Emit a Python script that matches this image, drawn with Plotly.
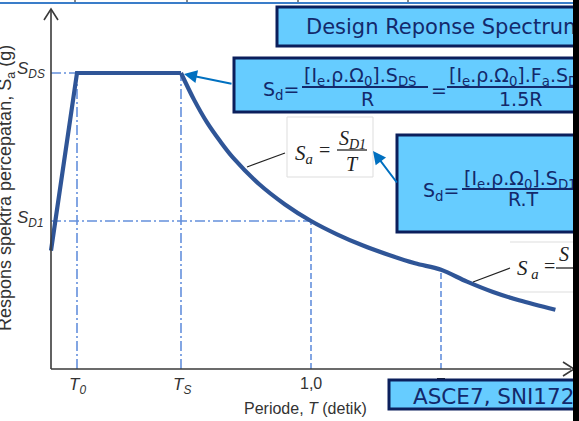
import plotly.graph_objects as go

# ---- design spectrum parameters (periods in s, accelerations in g) ----
T0, TS, T1, TL = 0.1, 0.5, 1.0, 1.5
SDS, SD1 = 1.0, 0.5

# rising branch and plateau
T_rise = [0.0, T0, TS]
Sa_rise = [0.4, SDS, SDS]

# descending branch (Sa = SD1/T, then SD1*TL/T^2 past TL)
T_dec = [0.5, 0.55, 0.6, 0.65, 0.7, 0.8, 0.9, 1.0, 1.1, 1.2, 1.3, 1.4, 1.5,
         1.6, 1.7, 1.8, 1.94]
Sa_dec = [1.0, 0.91, 0.833, 0.77, 0.714, 0.625, 0.556, 0.5, 0.455, 0.417,
          0.385, 0.357, 0.335, 0.295, 0.26, 0.232, 0.2]
Sa_TL = Sa_dec[T_dec.index(TL)]

W, H = 579, 421


def px(x):
    return x / W


def py(y):
    return 1 - y / H


CURVE = "#2F5597"
GUIDE = "#6490DC"
AXIS = "#3a3a3a"
NAVY = "#13296B"
BOXFILL = "#66CCFF"
BOXLINE = "#0B1F5C"
ARROW = "#0070C0"
DASHDOT = "10px,3px,2px,3px"
DASH = "6px,3px"

fig = go.Figure()

# guide lines
guides = [
    ([0, T0], [SDS, SDS], DASHDOT),
    ([T0, T0], [0, SDS], DASHDOT),
    ([TS, TS], [0, SDS], DASHDOT),
    ([0, T1], [SD1, SD1], DASHDOT),
    ([T1, T1], [0, SD1], DASH),
    ([TL, TL], [0, Sa_TL], DASH),
]
for gx, gy, d in guides:
    fig.add_trace(go.Scatter(x=gx, y=gy, mode="lines",
                             line=dict(color=GUIDE, width=1.6, dash=d),
                             hoverinfo="skip", showlegend=False))

# spectrum curve
fig.add_trace(go.Scatter(x=T_rise, y=Sa_rise, mode="lines",
                         line=dict(color=CURVE, width=4.2),
                         showlegend=False))
fig.add_trace(go.Scatter(x=T_dec, y=Sa_dec, mode="lines",
                         line=dict(color=CURVE, width=4.2, shape="spline",
                                   smoothing=1.0),
                         showlegend=False))

shapes = []


def pline(x0, y0, x1, y1, color, width):
    shapes.append(dict(type="line", xref="paper", yref="paper",
                       x0=px(x0), y0=py(y0), x1=px(x1), y1=py(y1),
                       line=dict(color=color, width=width)))


def prect(x0, y0, x1, y1, fill, color, width):
    shapes.append(dict(type="rect", xref="paper", yref="paper",
                       x0=px(x0), y0=py(y0), x1=px(x1), y1=py(y1),
                       fillcolor=fill, line=dict(color=color, width=width)))


def ppath(pts, color, width):
    d = "M " + " L ".join(f"{px(a)},{py(b)}" for a, b in pts)
    shapes.append(dict(type="path", xref="paper", yref="paper", path=d,
                       line=dict(color=color, width=width)))


# axes with open arrow heads
shapes.append(dict(type="line", xref="x", yref="y", x0=0, x1=0, y0=0,
                   y1=1.213, line=dict(color=AXIS, width=1.6)))
shapes.append(dict(type="line", xref="x", yref="y", x0=0, x1=2.0, y0=0,
                   y1=0, line=dict(color=AXIS, width=1.6)))
ppath([(44, 20), (51, 9), (58, 20)], AXIS, 1.6)
ppath([(563, 362), (574, 369), (563, 376)], AXIS, 1.6)

# thin rule along the top
pline(0, 3, 573, 3, "#3A7DC9", 2)
for tx in (75, 187, 298, 408):
    pline(tx, 0, tx, 2, "#111111", 1)
pline(437, 379, 445, 379, "#222222", 2)

# formula image frames
prect(287, 117, 373, 177, "white", "#DDDDDD", 1)
pline(510, 242, 580, 242, "#DDDDDD", 1)
pline(510, 292, 580, 292, "#DDDDDD", 1)

# leader lines
pline(247, 167, 285, 153, "#222222", 1.2)
pline(473, 282, 510, 268, "#222222", 1.2)

# text boxes
prect(277, 7, 600, 46, BOXFILL, BOXLINE, 3)
prect(234, 58, 600, 112, BOXFILL, BOXLINE, 3)
prect(397, 135, 600, 232, BOXFILL, BOXLINE, 3)
prect(389, 380, 600, 409, BOXFILL, BOXLINE, 3)

# fraction bars
pline(302, 87, 428, 87, NAVY, 2)
pline(447, 87, 580, 87, NAVY, 2)
pline(462, 189, 580, 189, NAVY, 2)
pline(337, 150, 367, 150, "#111111", 1.2)
pline(556, 268, 580, 268, "#111111", 1.2)

fig.update_layout(shapes=shapes)

ann = []


def text(x, y, s, size, color, family, xanchor="left", yanchor="middle",
         style="normal", angle=0):
    ann.append(dict(x=px(x), y=py(y), xref="paper", yref="paper", text=s,
                    showarrow=False, xanchor=xanchor, yanchor=yanchor,
                    textangle=angle,
                    font=dict(size=size, color=color, family=family,
                              style=style)))


SANS = "Liberation Sans, Arial, sans-serif"
VERD = "DejaVu Sans, Verdana, sans-serif"
SERIF = "Liberation Serif, Times New Roman, serif"

# axis annotations
text(47, 70, "S<sub>DS</sub>", 17, "#333333", SANS, xanchor="right", style="italic")
text(46, 219, "S<sub>D1</sub>", 17, "#333333", SANS, xanchor="right", style="italic")
text(77, 386, "T<sub>0</sub>", 17, "#333333", SANS, xanchor="center", style="italic")
text(182, 386, "T<sub>S</sub>", 17, "#333333", SANS, xanchor="center", style="italic")
text(311, 383, "1,0", 16, "#333333", SANS, xanchor="center")
text(305, 408, "Periode, <i>T</i> (detik)", 16, "#333333", SANS, xanchor="center")
text(7, 188, "Respons spektra percepatan, S<sub>a</sub> (g)", 18, "#333333",
     SANS, xanchor="center", angle=-90)

# box contents
text(304, 27, "Design Reponse Spectrum", 21, NAVY, VERD)
text(261, 90, "S<sub>d</sub>=", 19, NAVY, VERD)
text(302, 77, "[I<sub>e</sub>.ρ.Ω<sub>0</sub>].S<sub>DS</sub>", 19, NAVY, VERD)
text(367, 99, "R", 19, NAVY, VERD, xanchor="center")
text(429, 90, "=", 19, NAVY, VERD)
text(447, 77, "[I<sub>e</sub>.ρ.Ω<sub>0</sub>].F<sub>a</sub>.S<sub>DS</sub>", 19,
     NAVY, VERD)
text(520, 99, "1.5R", 19, NAVY, VERD, xanchor="center")
text(421, 192, "S<sub>d</sub>=", 19, NAVY, VERD)
text(462, 179, "[I<sub>e</sub>.ρ.Ω<sub>0</sub>].S<sub>D1</sub>", 19, NAVY, VERD)
text(523, 199, "R.T", 19, NAVY, VERD, xanchor="center")
text(411, 396, "ASCE7, SNI1726", 21.5, NAVY, VERD)

# code formulas
text(293, 154, "S<sub>a</sub>", 21, "#222222", SERIF, style="italic")
text(317, 150, "=", 20, "#222222", SERIF)
text(352, 139, "S<sub>D1</sub>", 20, "#222222", SERIF, xanchor="center", style="italic")
text(352, 164, "T", 20, "#222222", SERIF, xanchor="center", style="italic")
text(515, 269, "S<sub> a</sub>", 21, "#222222", SERIF, style="italic")
text(542, 266, "=", 20, "#222222", SERIF)
text(557, 254, "S", 20, "#222222", SERIF, style="italic")

# blue pointer arrows
ann.append(dict(x=px(184), y=py(74), xref="paper", yref="paper", text="",
                showarrow=True, ax=233 - 184, ay=84 - 74, arrowhead=2,
                arrowsize=1.3, arrowwidth=2, arrowcolor=ARROW))
ann.append(dict(x=px(373), y=py(151), xref="paper", yref="paper", text="",
                showarrow=True, ax=398 - 373, ay=184 - 151, arrowhead=2,
                arrowsize=1.3, arrowwidth=2, arrowcolor=ARROW))

# dark strip along the right edge
ann.append(dict(x=1, y=0.5, xref="paper", yref="paper", text="|",
                showarrow=False, xanchor="right", yanchor="middle",
                width=6, height=H + 4, bgcolor="black", borderpad=0,
                borderwidth=0, font=dict(size=8, color="black")))

fig.update_layout(
    annotations=ann,
    width=W, height=H,
    margin=dict(l=0, r=0, t=0, b=0),
    paper_bgcolor="white", plot_bgcolor="white",
    xaxis=dict(range=[-51 / 260, 528 / 260], visible=False, fixedrange=True),
    yaxis=dict(range=[-52 / 296, 369 / 296], visible=False, fixedrange=True),
    showlegend=False,
)

fig.write_html("out.html")
